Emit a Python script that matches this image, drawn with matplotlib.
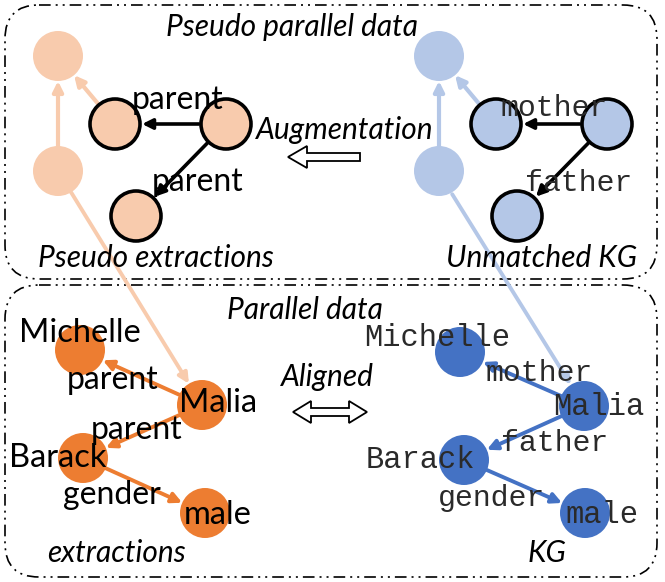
import matplotlib.pyplot as plt
from matplotlib.patches import Circle, FancyBboxPatch, FancyArrowPatch, Polygon

# ---- diagram content ----
ext_nodes = ["Michelle", "Malia", "Barack", "male"]
ext_edges = [("Malia", "Michelle", "parent"), ("Malia", "Barack", "parent"),
             ("Barack", "male", "gender")]
kg_edges = [("Malia", "Michelle", "mother"), ("Malia", "Barack", "father"),
            ("Barack", "male", "gender")]
pseudo_labels = ["parent", "parent"]
unmatched_labels = ["mother", "father"]

ORANGE, ORANGE_L = "#ED7D31", "#F8CBAD"
BLUE, BLUE_L = "#4472C4", "#B4C7E7"
R = 25
SANS = "Lato"
MONO = "Liberation Mono"
MONO_C = "#2a2a2a"

fig = plt.figure(figsize=(6.65, 5.82), dpi=100)
ax = fig.add_axes([0, 0, 1, 1])
ax.set_xlim(0, 665)
ax.set_ylim(582, 0)
ax.set_aspect("equal")
ax.axis("off")

dashdot = (0, (7, 3, 1.2, 3, 1.2, 3))
for (x0, y0, x1, y1) in [(5, 5, 657, 279), (5, 285, 657, 577)]:
    ax.add_patch(FancyBboxPatch((x0 + 34, y0 + 34), x1 - x0 - 68, y1 - y0 - 68,
                                boxstyle="round,pad=34", fc="none", ec="black",
                                lw=1.2, ls=dashdot))


def node(xy, fc, ec=None, z=3):
    ax.add_patch(Circle(xy, R, fc=fc, ec=ec if ec else "none",
                        lw=2.6 if ec else 0, zorder=z))


def arrow(a, b, color, lw=2.2, z=2, ms=15):
    shrink = R * 72 / 100 + (1.5 if color == "black" else 0)
    ax.add_patch(FancyArrowPatch(a, b, arrowstyle="-|>", color=color, lw=lw,
                                 mutation_scale=ms, shrinkA=shrink, shrinkB=shrink,
                                 zorder=z))


# ---- top panel: pseudo parallel data ----
for off, light in [(0, ORANGE_L), (381, BLUE_L)]:
    a, b = (58 + off, 56), (58 + off, 171)
    c, d, e = (115 + off, 124), (226 + off, 124), (136 + off, 216)
    node(a, light, z=1)
    node(b, light, z=1)
    arrow(b, a, light, lw=3, z=0)
    arrow(c, a, light, lw=3, z=0)
    for p in (c, d, e):
        node(p, light, ec="black")
    arrow(d, c, "black", lw=2.6)
    arrow(d, e, "black", lw=2.6)

ax.text(178, 100, pseudo_labels[0], fontsize=23, family=SANS, ha="center", va="center", zorder=5)
ax.text(198, 182, pseudo_labels[1], fontsize=23, family=SANS, ha="center", va="center", zorder=5)
ax.text(554, 108, unmatched_labels[0], fontsize=21.5, family=MONO, ha="center", va="center",
        color=MONO_C, zorder=5)
ax.text(579, 183, unmatched_labels[1], fontsize=21.5, family=MONO, ha="center", va="center",
        color=MONO_C, zorder=5)

ital = dict(family=SANS, style="italic", ha="center", va="center", fontsize=21.5)
ax.text(292, 27, "Pseudo parallel data", **ital)
ax.text(345, 130, "Augmentation", zorder=6, **ital)
ax.text(156, 258, "Pseudo extractions", **ital)
ax.text(542, 258, "Unmatched KG", **ital)

# hollow left arrow
ax.add_patch(Polygon([(360, 153), (307, 153), (307, 146), (288, 157), (307, 168),
                      (307, 161), (360, 161)], closed=True, fc="white", ec="black", lw=1.3))

# ---- bottom panel: parallel data ----
ext_pos = {"Michelle": (80, 350), "Malia": (202, 405), "Barack": (83, 458), "male": (205, 513)}
kg_pos = {"Michelle": (460, 352), "Malia": (584, 406), "Barack": (464, 460), "male": (585, 513)}

for n in ext_nodes:
    node(ext_pos[n], ORANGE)
    node(kg_pos[n], BLUE)
for s, t, _ in ext_edges:
    arrow(ext_pos[s], ext_pos[t], ORANGE, lw=2.8, z=2)
for s, t, _ in kg_edges:
    arrow(kg_pos[s], kg_pos[t], BLUE, lw=2.8, z=2)

# links from pseudo graphs into Malia
arrow((58, 171), ext_pos["Malia"], ORANGE_L, lw=2.8, z=1)
arrow((439, 173), kg_pos["Malia"], BLUE_L, lw=2.8, z=1)

ext_text = {"Michelle": (80, 333), "Malia": (218, 403), "Barack": (58, 458), "male": (218, 515)}
ext_edge_text = [(113, 380), (137, 430), (112, 495)]
kg_text = {"Michelle": (437, 338), "Malia": (599, 407), "Barack": (420, 460), "male": (602, 515)}
kg_edge_text = [(539, 373), (555, 443), (492, 498)]

for n in ext_nodes:
    ax.text(*ext_text[n], n, fontsize=23.5, family=SANS, ha="center", va="center", zorder=5)
    ax.text(*kg_text[n], n, fontsize=22, family=MONO, ha="center", va="center",
            color=MONO_C, zorder=5)
for (s, t, lab), xy in zip(ext_edges, ext_edge_text):
    ax.text(*xy, lab, fontsize=23, family=SANS, ha="center", va="center", zorder=5)
for (s, t, lab), xy in zip(kg_edges, kg_edge_text):
    ax.text(*xy, lab, fontsize=21.5, family=MONO, ha="center", va="center",
            color=MONO_C, zorder=5)

ax.text(305, 310, "Parallel data", **ital)
ax.text(327, 377, "Aligned", **ital)
ax.text(117, 553, "extractions", **ital)
ax.text(547, 553, "KG", **ital)

# hollow double arrow
ax.add_patch(Polygon([(293, 412), (311, 401), (311, 408), (349, 408), (349, 401),
                      (367, 412), (349, 423), (349, 416), (311, 416), (311, 423)],
                     closed=True, fc="white", ec="black", lw=1.3))

fig.savefig("out.png", dpi=100)
